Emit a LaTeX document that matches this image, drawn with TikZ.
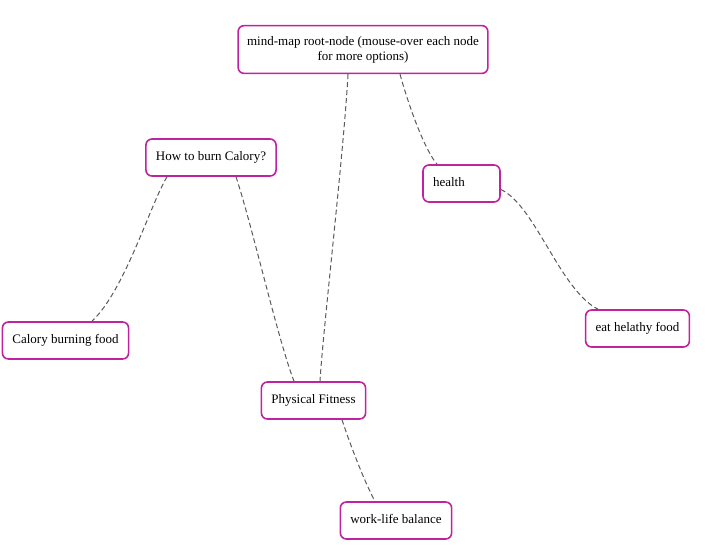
\documentclass[tikz,border=0pt]{standalone}
\usepackage{fontspec}
\setmainfont{Liberation Serif}
\definecolor{mapborder}{HTML}{C023A0}
\definecolor{linkgray}{HTML}{5A5A5A}

\begin{document}
\begin{tikzpicture}[x=1pt,y=-1pt]
	\tikzstyle{mapnode}=[draw=mapborder, line width=1.6pt, rounded corners=6pt, fill=white,
		font=\fontsize{13}{15}\selectfont, inner xsep=10pt, inner ysep=12.5pt]
	\tikzstyle{leaf}=[mapnode, text height=9pt, text depth=3pt]
	\tikzstyle{maplink}=[draw=linkgray, line width=1pt, dash pattern=on 5pt off 3pt]
	\useasboundingbox (0,0) rectangle (714,544);
	\node [mapnode, align=center, inner xsep=9pt, inner ysep=10.5pt] (root) at (363,49.5)
		{mind-map root-node (mouse-over each node\\for more options)};
	\node [leaf] (burn) at (211,157.5) {How to burn Calory?};
	\node [leaf, text width=57pt, align=left] (health) at (461.5,183.5) {health};
	\node [leaf] (calfood) at (65.5,340.5) {Calory burning food};
	\node [leaf] (eat) at (637.5,328.5) {eat helathy food};
	\node [leaf] (fitness) at (313.5,400.5) {Physical Fitness};
	\node [leaf] (worklife) at (396,520.5) {work-life balance};
	\draw [maplink] ([xshift=-15pt]root.south) .. controls (344,150) and (323,330) .. ([xshift=6.5pt]fitness.north);
	\draw [maplink] ([xshift=37pt]root.south) .. controls (410,110) and (425,150) .. ([xshift=-24.5pt]health.north);
	\draw [maplink] ([xshift=-44pt]burn.south) .. controls (150,205) and (125,290) .. ([xshift=26.5pt]calfood.north);
	\draw [maplink] ([xshift=25pt]burn.south) .. controls (252,225) and (278,340) .. ([xshift=-19.5pt]fitness.north);
	\draw [maplink] ([yshift=-6pt]health.east) .. controls (535,205) and (560,290) .. ([xshift=-39.5pt]eat.north);
	\draw [maplink] ([xshift=28.5pt]fitness.south) .. controls (352,450) and (366,485) .. ([xshift=-21pt]worklife.north);
\end{tikzpicture}
\end{document}
